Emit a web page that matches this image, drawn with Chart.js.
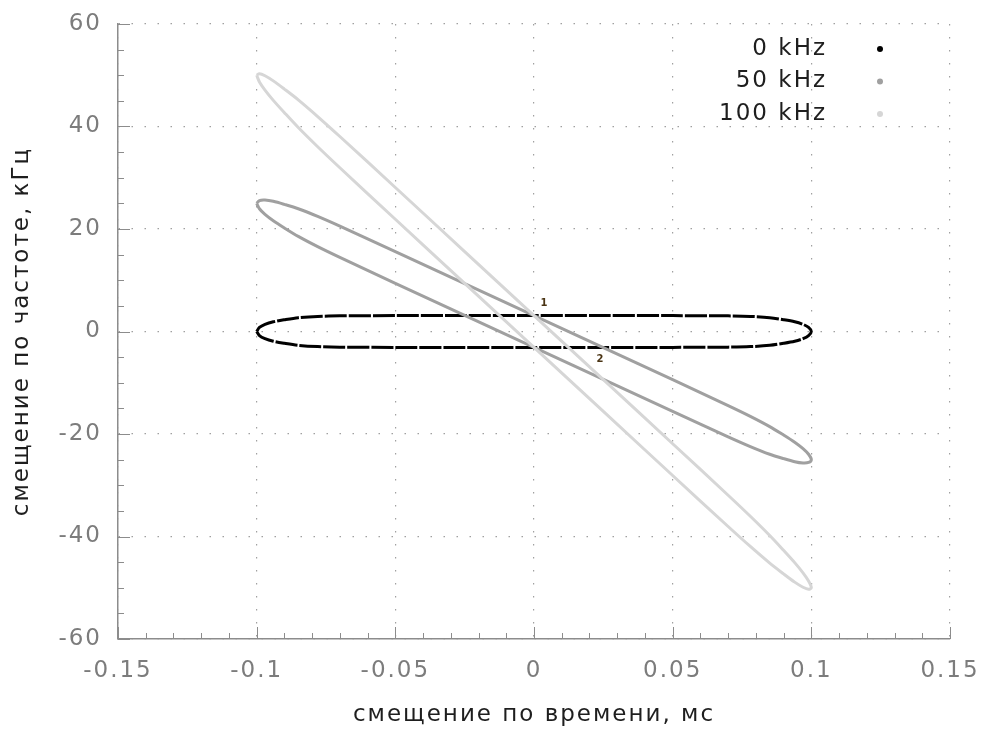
<!DOCTYPE html>
<html><head><meta charset="utf-8">
<script src="https://cdn.jsdelivr.net/npm/chart.js@4.4.0/dist/chart.umd.min.js"></script>
<style>html,body{margin:0;padding:0;background:#fff;}</style>
</head><body>
<canvas id="c" width="986" height="733"></canvas>
<script>
// ---- data ----
const seriesLabels = ['0 kHz', '50 kHz', '100 kHz'];
const seriesColors = ['#000000', '#a0a0a0', '#d6d6d6'];

// 0 kHz contour (x in ms, y in kHz), closed loop
const series0 = [
  [-0.1,0],[-0.099,0.8],[-0.097,1.4],[-0.094,1.9],[-0.09,2.3],[-0.085,2.7],[-0.078,2.95],[-0.07,3.05],
  [-0.05,3.1],[-0.025,3.1],[0,3.1],[0.025,3.1],[0.05,3.1],[0.07,3.05],[0.078,2.95],[0.085,2.7],
  [0.09,2.3],[0.094,1.9],[0.097,1.4],[0.099,0.8],[0.1,0],
  [0.099,-0.8],[0.097,-1.4],[0.094,-1.9],[0.09,-2.3],[0.085,-2.7],[0.078,-2.95],[0.07,-3.05],
  [0.05,-3.1],[0.025,-3.1],[0,-3.1],[-0.025,-3.1],[-0.05,-3.1],[-0.07,-3.05],[-0.078,-2.95],[-0.085,-2.7],
  [-0.09,-2.3],[-0.094,-1.9],[-0.097,-1.4],[-0.099,-0.8],[-0.1,0]
];
// 50 kHz contour
const series50 = [
  [-0.1,25],[-0.099,25.55],[-0.097,25.65],[-0.094,25.4],[-0.09,24.8],[-0.085,23.95],[-0.078,22.45],[-0.07,20.55],
  [-0.05,15.6],[-0.025,9.35],[0,3.1],[0.025,-3.15],[0.05,-9.4],[0.07,-14.45],[0.078,-16.55],[0.085,-18.55],
  [0.09,-20.2],[0.094,-21.6],[0.097,-22.85],[0.099,-23.95],[0.1,-25],
  [0.099,-25.55],[0.097,-25.65],[0.094,-25.4],[0.09,-24.8],[0.085,-23.95],[0.078,-22.45],[0.07,-20.55],
  [0.05,-15.6],[0.025,-9.35],[0,-3.1],[-0.025,3.15],[-0.05,9.4],[-0.07,14.45],[-0.078,16.55],[-0.085,18.55],
  [-0.09,20.2],[-0.094,21.6],[-0.097,22.85],[-0.099,23.95],[-0.1,25]
];
// 100 kHz contour
const series100 = [
  [-0.1,50],[-0.099,50.3],[-0.097,49.9],[-0.094,48.9],[-0.09,47.3],[-0.085,45.2],[-0.078,41.95],[-0.07,38.05],
  [-0.05,28.1],[-0.025,15.6],[0,3.1],[0.025,-9.4],[0.05,-21.9],[0.07,-31.95],[0.078,-36.05],[0.085,-39.8],
  [0.09,-42.7],[0.094,-45.1],[0.097,-47.1],[0.099,-48.7],[0.1,-50],
  [0.099,-50.3],[0.097,-49.9],[0.094,-48.9],[0.09,-47.3],[0.085,-45.2],[0.078,-41.95],[0.07,-38.05],
  [0.05,-28.1],[0.025,-15.6],[0,-3.1],[-0.025,9.4],[-0.05,21.9],[-0.07,31.95],[-0.078,36.05],[-0.085,39.8],
  [-0.09,42.7],[-0.094,45.1],[-0.097,47.1],[-0.099,48.7],[-0.1,50]
];
const markLabels = ['1', '2'];
const markX = [0.0036, 0.0238];
const markY = [5.5, -5.5];

const xTitle = 'смещение по времени, мс';
const yTitle = 'смещение по частоте, кГц';
const xMin = -0.15, xMax = 0.15, xStep = 0.05, xMinorStep = 0.01;
const yMin = -60, yMax = 60, yStep = 20, yMinorStep = 5;
// -------------------------------------

const FONT = '"DejaVu Sans", Verdana, sans-serif';
const LS = '2px';
const FS = 23;

const toPts = arr => arr.map(p => ({x: p[0], y: p[1]}));

const spacingPlugin = {
  id: 'spacing',
  beforeLayout(chart) { chart.ctx.letterSpacing = LS; },
  beforeDraw(chart) { chart.ctx.letterSpacing = LS; }
};

const ticksPlugin = {
  id: 'innerTicks',
  beforeDatasetsDraw(chart) {
    const ctx = chart.ctx, xs = chart.scales.x, ys = chart.scales.y;
    const ca = chart.chartArea;
    ctx.save();
    ctx.strokeStyle = '#8c8c8c';
    ctx.lineWidth = 1;
    ctx.beginPath();
    const nx = Math.round((xMax - xMin) / xMinorStep);
    for (let i = 0; i <= nx; i++) {
      const v = xMin + i * xMinorStep;
      const major = i % Math.round(xStep / xMinorStep) === 0;
      const px = Math.round(xs.getPixelForValue(v)) + 0.5;
      ctx.moveTo(px, ca.bottom);
      ctx.lineTo(px, ca.bottom - (major ? 12 : 6));
    }
    const ny = Math.round((yMax - yMin) / yMinorStep);
    for (let i = 0; i <= ny; i++) {
      const v = yMin + i * yMinorStep;
      const major = i % Math.round(yStep / yMinorStep) === 0;
      const py = Math.round(ys.getPixelForValue(v)) + 0.5;
      ctx.moveTo(ca.left, py);
      ctx.lineTo(ca.left + (major ? 12 : 6), py);
    }
    ctx.stroke();
    ctx.restore();
  },
  afterDatasetsDraw(chart) {
    const ctx = chart.ctx, xs = chart.scales.x, ys = chart.scales.y;
    ctx.save();
    ctx.letterSpacing = '0px';
    // point labels
    ctx.font = 'bold 10px ' + FONT;
    ctx.fillStyle = '#4a3414';
    ctx.textAlign = 'center';
    ctx.textBaseline = 'middle';
    for (let i = 0; i < markLabels.length; i++) {
      ctx.fillText(markLabels[i], xs.getPixelForValue(markX[i]), ys.getPixelForValue(markY[i]));
    }
    // legend (gnuplot style: text, then sample)
    ctx.letterSpacing = LS;
    ctx.font = FS + 'px ' + FONT;
    ctx.textAlign = 'right';
    const ds = chart.data.datasets;
    for (let i = 0; i < ds.length; i++) {
      const y = 49 + i * 32.5;
      ctx.fillStyle = '#1e1e1e';
      ctx.fillText(ds[i].label, 827, y);
      ctx.beginPath();
      ctx.fillStyle = ds[i].borderColor;
      ctx.arc(880, y, 3, 0, Math.PI * 2);
      ctx.fill();
    }
    ctx.restore();
  }
};

const fmt = v => {
  const r = Math.round(v * 1000) / 1000;
  return (Object.is(r, -0) ? 0 : r).toString();
};

new Chart(document.getElementById('c'), {
  type: 'scatter',
  data: {
    datasets: [series0, series50, series100].map((s, i) => ({
      label: seriesLabels[i],
      data: toPts(s),
      showLine: true,
      borderColor: seriesColors[i],
      backgroundColor: seriesColors[i],
      borderWidth: 3,
      borderDash: i === 0 ? [22, 2] : [],
      pointRadius: 0,
      tension: 0.3,
      fill: false,
      order: 3 - i
    }))
  },
  options: {
    responsive: false,
    animation: false,
    devicePixelRatio: 1,
    layout: {padding: {top: 24, right: 36, left: 0, bottom: 0}},
    plugins: {legend: {display: false}, tooltip: {enabled: false}},
    scales: {
      x: {
        type: 'linear', min: xMin, max: xMax,
        afterFit(s) { s.height = 94; s.paddingLeft = 0; s.paddingRight = 0; },
        ticks: {stepSize: xStep, callback: fmt, color: '#7c7c7c', padding: 18,
                font: {family: FONT, size: FS}, maxRotation: 0},
        grid: {color: '#a0a0a0', lineWidth: 1.2, drawTicks: false},
        border: {color: '#8c8c8c', width: 1.5, dash: [1.5, 11.5]},
        title: {display: true, text: xTitle, color: '#1e1e1e', font: {family: FONT, size: FS},
                padding: {top: 0, bottom: 4}}
      },
      y: {
        type: 'linear', min: yMin, max: yMax,
        afterFit(s) { s.width = 118; s.paddingTop = 0; s.paddingBottom = 0; },
        ticks: {stepSize: yStep, callback: fmt, color: '#7c7c7c', padding: 16,
                font: {family: FONT, size: FS}},
        grid: {color: '#a0a0a0', lineWidth: 1.2, drawTicks: false},
        border: {color: '#8c8c8c', width: 1.5, dash: [1.5, 11.5]},
        title: {display: true, text: yTitle, color: '#1e1e1e', font: {family: FONT, size: FS},
                padding: {top: 8, bottom: 0}}
      }
    }
  },
  plugins: [spacingPlugin, ticksPlugin]
});
</script>
</body></html>
